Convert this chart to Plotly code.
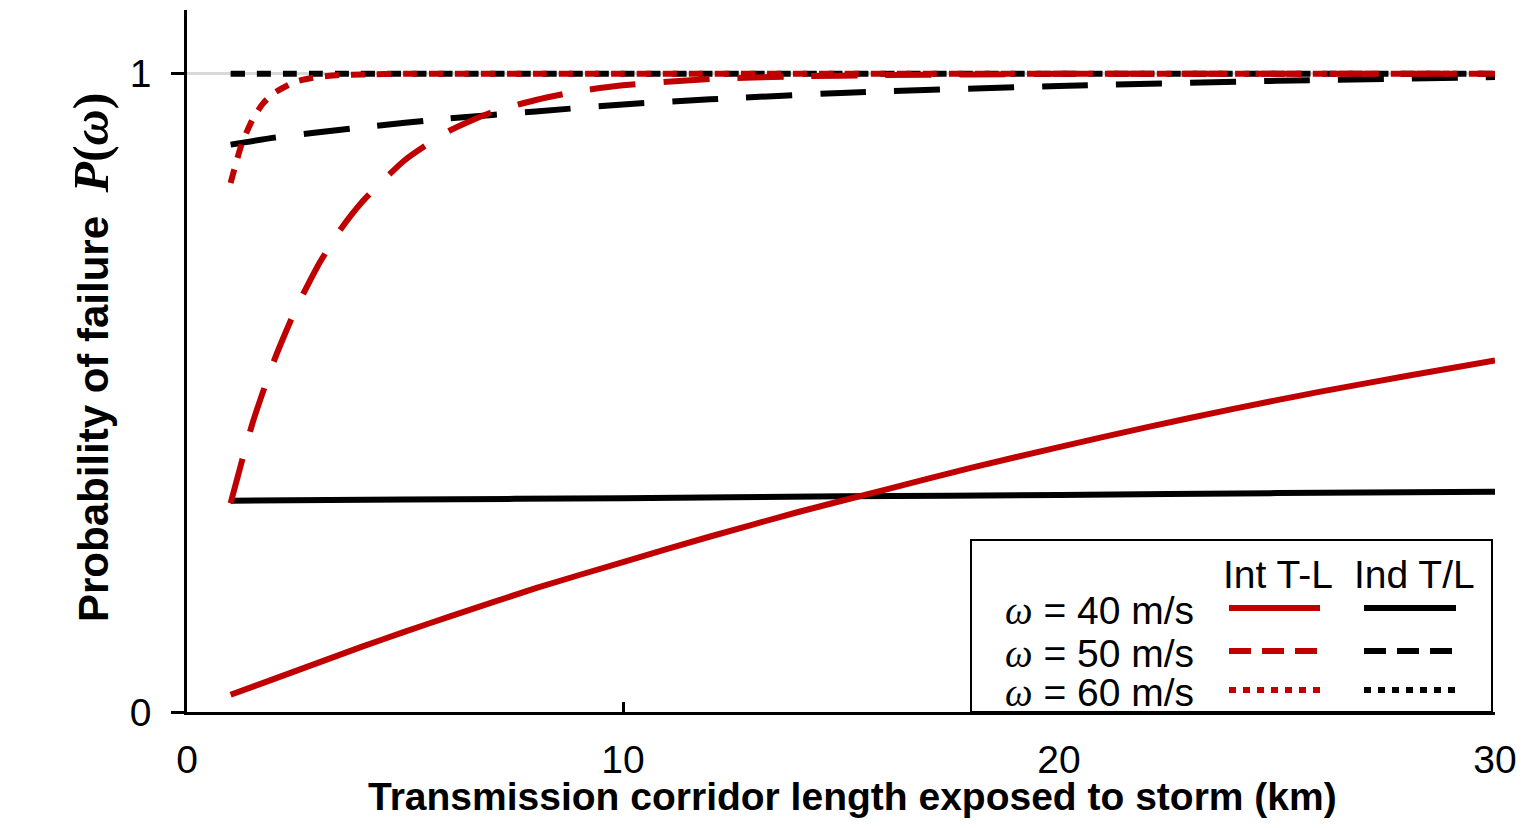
import plotly.graph_objects as go

# ---------------- data ----------------
x_int40 = [1, 2, 3, 4, 5, 6, 8, 10, 12, 14, 16, 18, 20, 22, 24, 26, 28, 30]
p_int40 = [0.027, 0.052, 0.077, 0.102, 0.126, 0.149, 0.194, 0.235, 0.275, 0.313,
           0.348, 0.383, 0.415, 0.446, 0.475, 0.502, 0.527, 0.551]

x_ind40 = [1, 5, 10, 15, 20, 25, 30]
p_ind40 = [0.331, 0.333, 0.335, 0.338, 0.340, 0.343, 0.345]

x_int50 = [1, 1.5, 2, 2.5, 3, 3.5, 4, 5, 6, 7, 8, 9, 10, 12, 14, 16, 18, 20, 25, 30]
p_int50 = [0.327, 0.452, 0.551, 0.632, 0.699, 0.754, 0.798, 0.865, 0.910, 0.940,
           0.959, 0.973, 0.982, 0.992, 0.996, 0.998, 0.999, 1.0, 1.0, 1.0]

x_ind50 = [1, 2, 4, 6, 8, 10, 12, 15, 20, 25, 30]
p_ind50 = [0.889, 0.900, 0.916, 0.930, 0.941, 0.952, 0.960, 0.970, 0.981, 0.989, 0.995]

x_int60 = [1, 1.25, 1.5, 1.75, 2, 2.5, 3, 3.5, 4, 5, 6, 8, 10, 15, 20, 25, 30]
p_int60 = [0.829, 0.889, 0.928, 0.954, 0.970, 0.988, 0.995, 0.998, 0.999, 1.0,
           1.0, 1.0, 1.0, 1.0, 1.0, 1.0, 1.0]

x_ind60 = [1, 5, 10, 15, 20, 25, 30]
p_ind60 = [1.0, 1.0, 1.0, 1.0, 1.0, 1.0, 1.0]

x_ticks = [0, 10, 20, 30]
y_ticks = [0, 1]
x_title = "Transmission corridor length exposed to storm (km)"
y_title_text = "Probability of failure"
col_headers = ["Int T-L", "Ind T/L"]
row_labels = ["40 m/s", "50 m/s", "60 m/s"]

RED = "#C00000"
BLACK = "#000000"
LW = 6
DASH = "46px,28px"
DOT = "14px,12px"
SERIF = "Liberation Serif"
SANS = "Liberation Sans, Arial, sans-serif"

fig = go.Figure()

def add(x, y, color, dash):
    fig.add_trace(go.Scatter(
        x=x, y=y, mode="lines",
        line=dict(color=color, width=LW, dash=dash, shape="spline", smoothing=0.6),
        showlegend=False, hoverinfo="skip"))

# black (Ind T/L) first, red (Int T-L) on top
add(x_ind40, p_ind40, BLACK, "solid")
add(x_ind50, p_ind50, BLACK, DASH)
add(x_ind60, p_ind60, BLACK, DOT)
add(x_int40, p_int40, RED, "solid")
add(x_int50, p_int50, RED, DASH)
add(x_int60, p_int60, RED, DOT)

# ---------------- layout ----------------
# page coordinates (window 1527x828); the html body adds an 8px margin
OFF = 8
PAGE_W, PAGE_H = 1527, 828
W, H = PAGE_W - 2 * OFF, PAGE_H - 2 * OFF
P_LEFT, P_RIGHT, P_TOP, P_BOTTOM = 187, 1495, 10, 712   # plot area in page px
ML = P_LEFT - OFF
MT = P_TOP - OFF
MR = W - (P_RIGHT - OFF)
MB = H - (P_BOTTOM - OFF)
PW, PH = P_RIGHT - P_LEFT, P_BOTTOM - P_TOP

def px(xp):
    return (xp - P_LEFT) / PW

def py(yp):
    return (P_BOTTOM - yp) / PH

fig.update_layout(
    width=W, height=H,
    margin=dict(l=ML, r=MR, t=MT, b=MB),
    plot_bgcolor="white", paper_bgcolor="white",
    font=dict(family=SANS, color="black", size=38),
    xaxis=dict(
        range=[0, 30], tickvals=x_ticks, ticktext=[str(v) for v in x_ticks],
        ticks="inside", ticklen=10, tickwidth=2.5, tickcolor="black",
        showline=True, linecolor="black", linewidth=2.5,
        showgrid=False, zeroline=False,
        tickfont=dict(size=39, family=SANS), ticklabelstandoff=11,
    ),
    yaxis=dict(
        range=[0, 1.1], tickvals=y_ticks, ticktext=[str(v) for v in y_ticks],
        ticks="outside", ticklen=13, tickwidth=2.5, tickcolor="black",
        showline=True, linecolor="black", linewidth=2.5,
        showgrid=True, gridcolor="#d9d9d9", gridwidth=3, zeroline=False,
        tickfont=dict(size=39, family=SANS), ticklabelstandoff=12,
    ),
)

annotations = []
shapes = []

# axis titles
annotations.append(dict(
    text="<b>" + x_title + "</b>", xref="paper", yref="paper",
    x=px(852), y=py(796), xanchor="center", yanchor="middle",
    showarrow=False, font=dict(size=39, family=SANS)))
annotations.append(dict(
    text="<b>" + y_title_text + "\u00a0\u00a0"
         + "<span style=\"font-family:'" + SERIF + "';font-size:50px\"><i>P</i>(<i>\u03c9</i>)</span></b>",
    xref="paper", yref="paper", x=px(91), y=py(358),
    xanchor="center", yanchor="middle", textangle=-90,
    showarrow=False, font=dict(size=42, family=SANS)))

# ---------------- custom legend table ----------------
shapes.append(dict(type="rect", xref="paper", yref="paper",
                   x0=px(971), x1=px(1492), y0=py(712), y1=py(540),
                   line=dict(color="black", width=2), fillcolor="white", layer="above"))

for hx, txt in zip([1278, 1414], col_headers):
    annotations.append(dict(text=txt, xref="paper", yref="paper",
                            x=px(hx), y=py(574), xanchor="center", yanchor="middle",
                            showarrow=False, font=dict(size=39, family=SANS)))

row_y = [608, 651, 690]
dash_leg = ["solid", "22px,11px", "7px,7px"]
for ry, lab, dsh in zip(row_y, row_labels, dash_leg):
    annotations.append(dict(
        text="<span style=\"font-family:'" + SERIF + "'\"><i>\u03c9</i></span> = " + lab,
        xref="paper", yref="paper", x=px(1196), y=py(ry + 2),
        xanchor="right", yanchor="middle", showarrow=False,
        font=dict(size=39, family=SANS)))
    shapes.append(dict(type="line", xref="paper", yref="paper",
                       x0=px(1229), x1=px(1320), y0=py(ry), y1=py(ry),
                       line=dict(color=RED, width=6, dash=dsh), layer="above"))
    shapes.append(dict(type="line", xref="paper", yref="paper",
                       x0=px(1364), x1=px(1456), y0=py(ry), y1=py(ry),
                       line=dict(color=BLACK, width=6, dash=dsh), layer="above"))

fig.update_layout(annotations=annotations, shapes=shapes)

fig.write_html("out.html")
